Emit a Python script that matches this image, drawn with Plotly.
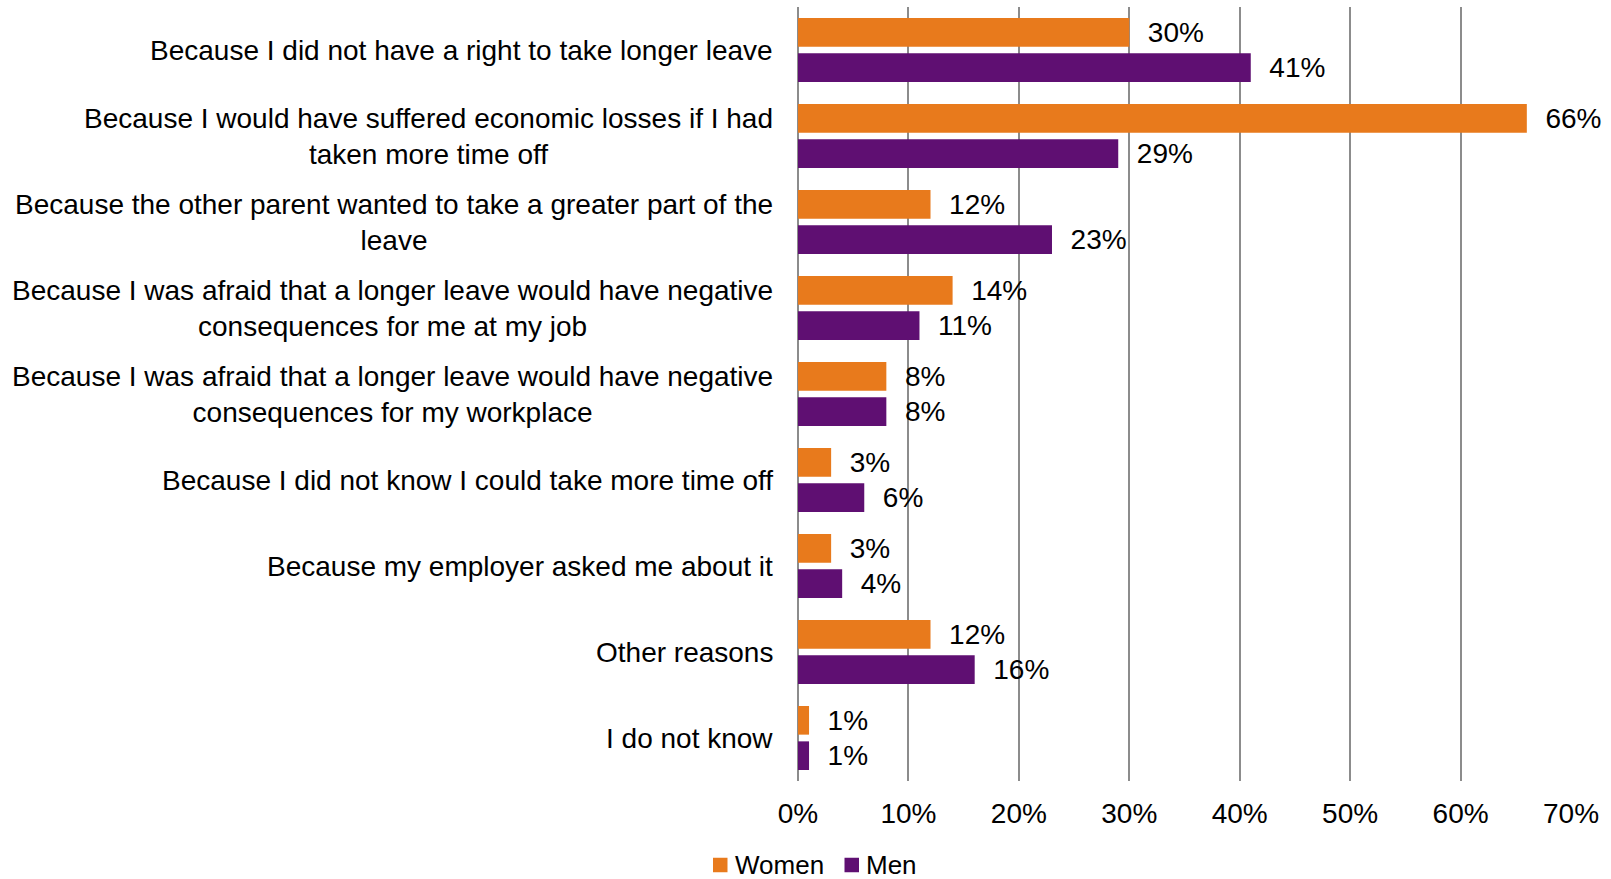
import plotly.graph_objects as go

categories = [
    "Because I did not have a right to take longer leave",
    "Because I would have suffered economic losses if I had<br>taken more time off",
    "Because the other parent wanted to take a greater part of the<br>leave",
    "Because I was afraid that a longer leave would have negative<br>consequences for me at my job",
    "Because I was afraid that a longer leave would have negative<br>consequences for my workplace",
    "Because I did not know I could take more time off",
    "Because my employer asked me about it",
    "Other reasons",
    "I do not know",
]
women = [0.30, 0.66, 0.12, 0.14, 0.08, 0.03, 0.03, 0.12, 0.01]
men = [0.41, 0.29, 0.23, 0.11, 0.08, 0.06, 0.04, 0.16, 0.01]
x_ticks = [0, 0.1, 0.2, 0.3, 0.4, 0.5, 0.6, 0.7]
series = [("Women", women, "#E87A1C"), ("Men", men, "#5F0F72")]

FONT = "Liberation Sans, Arial, sans-serif"
FS = 28
W, H = 1611, 879
ML, MR, MT, MB = 798, 40, 7, 98
PW, PH = W - ML - MR, H - MT - MB

fig = go.Figure()
for name, vals, col in series:
    fig.add_trace(go.Bar(
        name=name, y=categories, x=vals, orientation="h",
        marker=dict(color=col, line=dict(width=0)),
        text=[f"{v:.0%}" for v in vals],
        texttemplate="\u00a0\u00a0%{text}",
        textposition="outside", constraintext="none", cliponaxis=False,
        textfont=dict(family=FONT, size=FS, color="black"),
        showlegend=False,
    ))

# category labels: right-aligned block, lines centred within it
for c in categories:
    fig.add_annotation(
        x=0, xref="paper", y=c, yref="y", xanchor="right", yanchor="middle",
        xshift=-23, text=c, showarrow=False, align="center",
        font=dict(family=FONT, size=FS, color="black"),
    )

# legend row under the axis: coloured square followed by series name
def px_x(p):
    return (p - ML) / PW

def px_y(p):
    return (H - MB - p) / PH

leg_y = 865
sq = 14.5
leg_x = [713, 844.5]
for (name, _, col), x0 in zip(series, leg_x):
    fig.add_shape(
        type="rect", xref="paper", yref="paper",
        x0=px_x(x0), x1=px_x(x0 + sq),
        y0=px_y(leg_y + sq / 2), y1=px_y(leg_y - sq / 2),
        fillcolor=col, line=dict(width=0),
    )
    fig.add_annotation(
        x=px_x(x0 + sq + 5), y=px_y(leg_y), xref="paper", yref="paper",
        xanchor="left", yanchor="middle", text=name, showarrow=False,
        font=dict(family=FONT, size=26, color="black"),
    )

fig.update_layout(
    width=W, height=H,
    margin=dict(l=ML, r=MR, t=MT, b=MB),
    paper_bgcolor="white", plot_bgcolor="white",
    barmode="group", bargap=0.177, bargroupgap=0.19,
    font=dict(family=FONT, size=FS, color="black"),
    showlegend=False,
    xaxis=dict(
        range=[0, 0.7], tickvals=x_ticks, tickformat=".0%",
        showgrid=True, gridcolor="#8C8C8C", gridwidth=1.5,
        zeroline=True, zerolinecolor="#8C8C8C", zerolinewidth=1.5,
        showline=False, ticks="",
        ticklabelstandoff=13,
        tickfont=dict(family=FONT, size=FS, color="black"),
    ),
    yaxis=dict(
        autorange="reversed", showticklabels=False, showgrid=False,
        zeroline=False, showline=False, ticks="",
    ),
)

fig.write_html("out.html")
